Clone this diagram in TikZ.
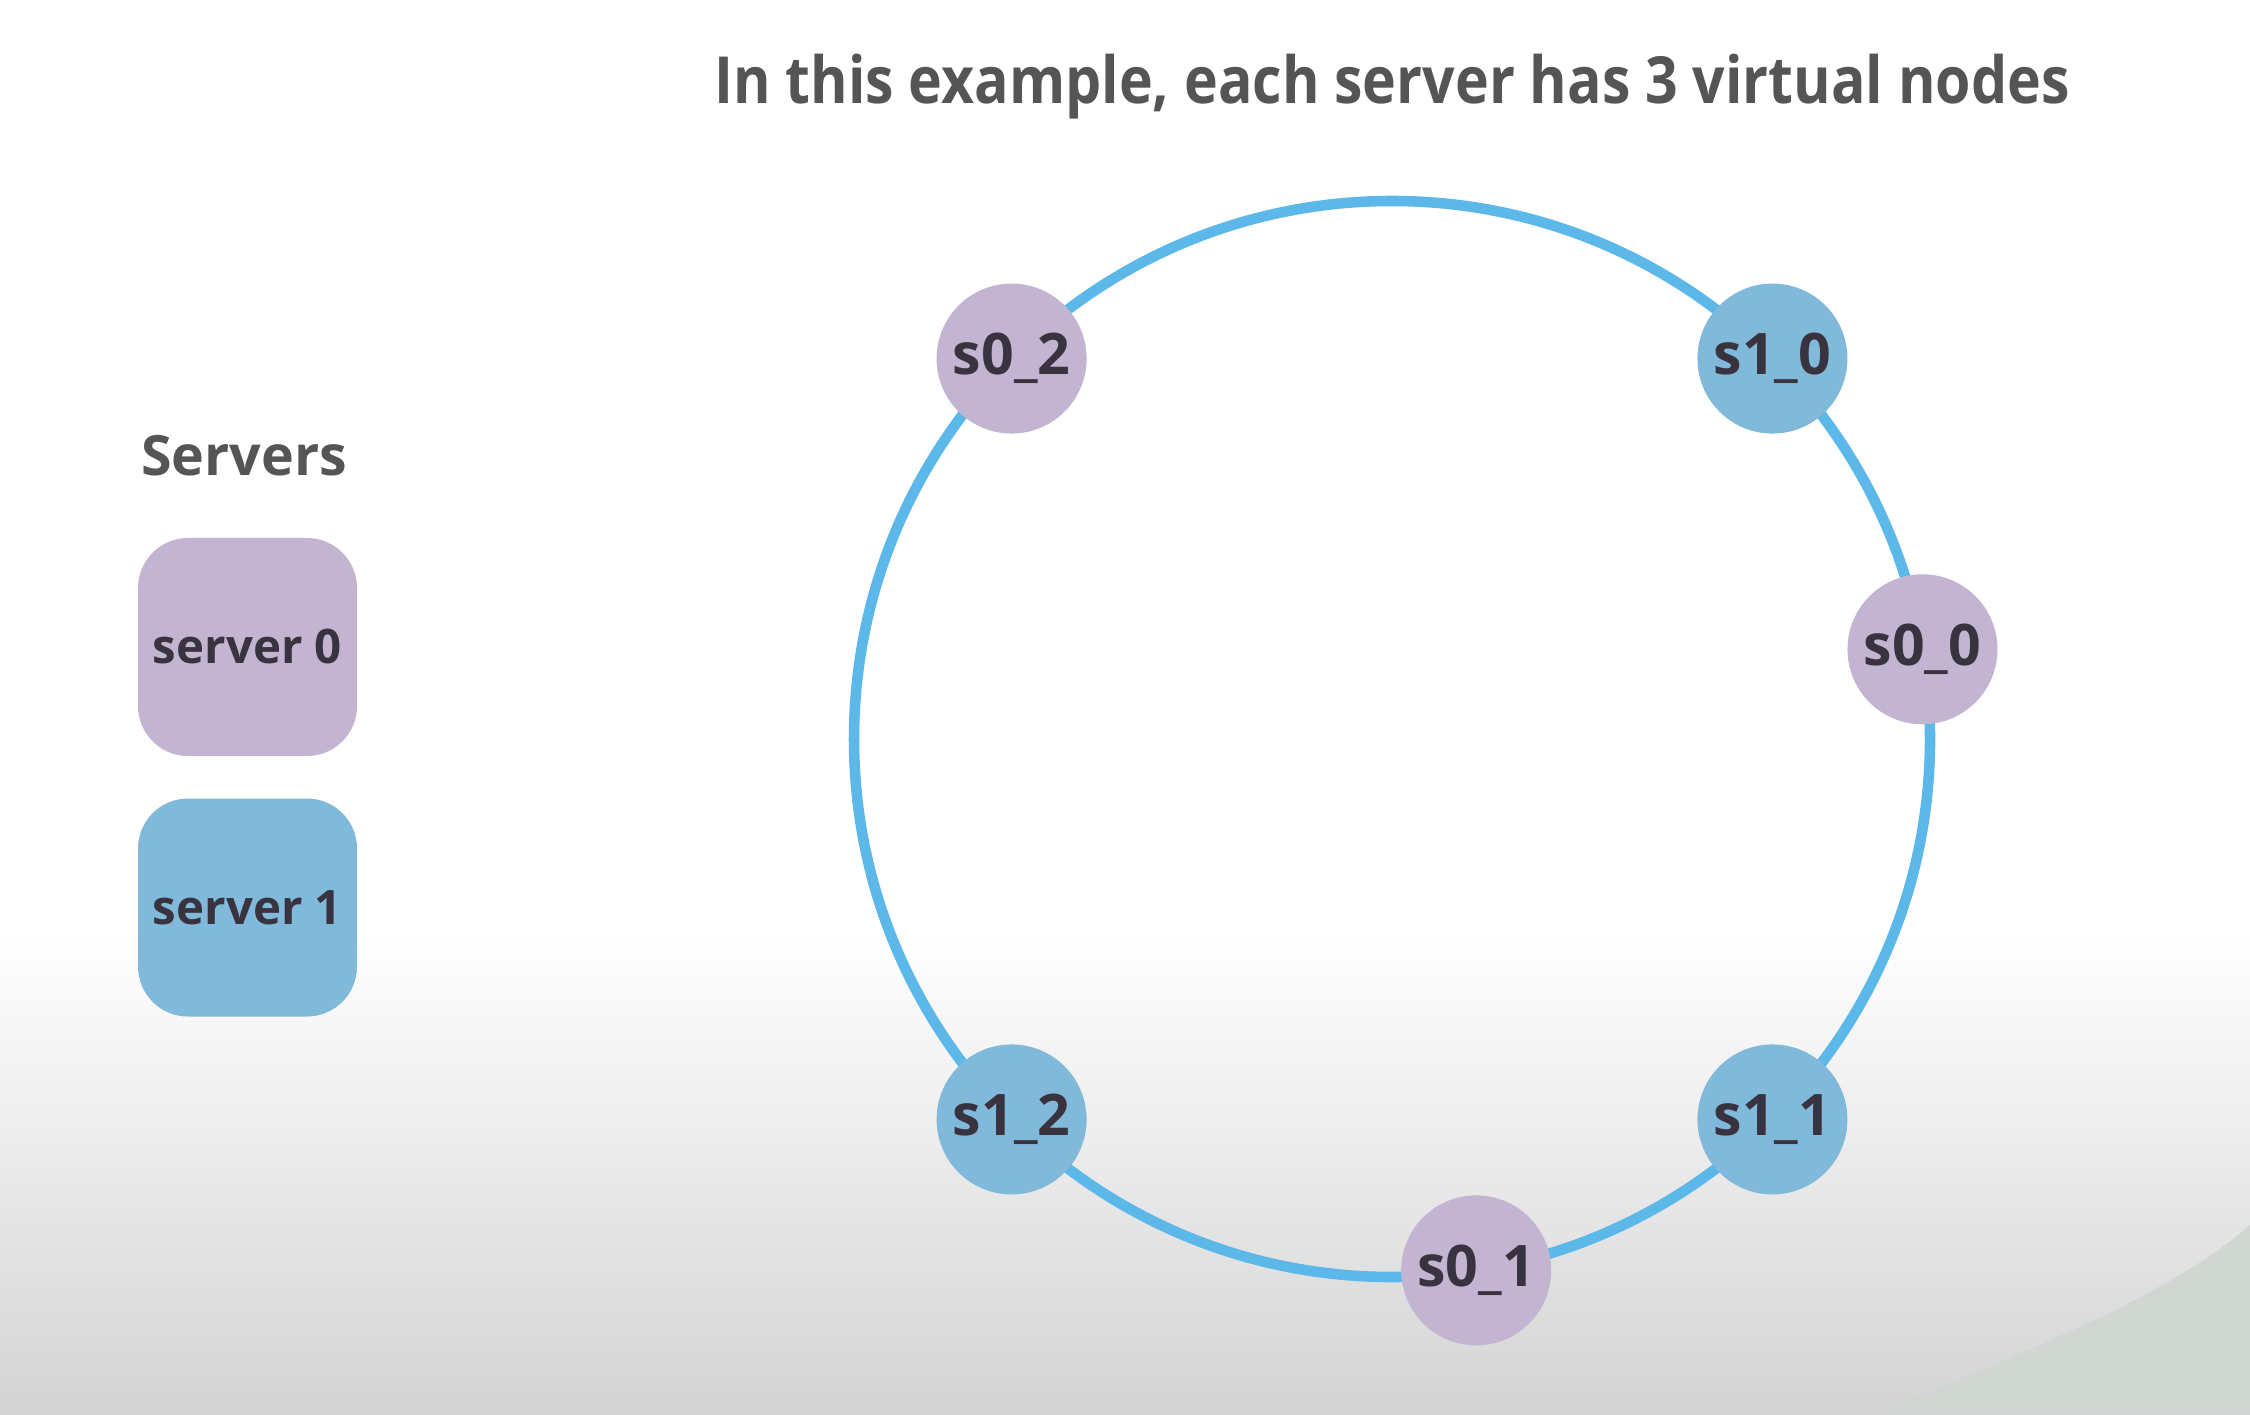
\documentclass[tikz,border=0pt]{standalone}
\usepackage{fontspec}
\setmainfont{Open Sans}
\definecolor{ringblue}{HTML}{5BB8E8}
\definecolor{lilac}{HTML}{C3B5D1}
\definecolor{skyblue}{HTML}{80B9D9}
\definecolor{titlegray}{HTML}{555555}
\definecolor{inkdark}{HTML}{38333F}
\definecolor{sage}{HTML}{D0D6D2}
\begin{document}
\begin{tikzpicture}[
  vnode/.style={circle, minimum size=1.5cm, inner sep=0pt, text=inkdark,
    font=\fontsize{16.3}{19}\selectfont\bfseries},
  vnode0/.style={vnode, fill=lilac},
  vnode1/.style={vnode, fill=skyblue},
  srvbox/.style={rounded corners=0.5cm, minimum width=2.19cm, minimum height=2.18cm,
    text=inkdark, font=\fontsize{13.5}{16}\selectfont\bfseries}
]
\useasboundingbox (0,0) rectangle (22.5,14.14);
% background of the slide
\fill[white] (0,0) rectangle (22.5,14.14);
\shade[top color=white, bottom color=black!17] (0,0) rectangle (22.5,4.84);
\fill[sage] (18.8,0) .. controls (20,0.55) and (21.6,1.1) .. (22.5,1.89) -- (22.5,0) -- cycle;
% title and legend
\node[text=titlegray, font=\fontsize{18.5}{22}\selectfont\bfseries] (title) at (13.92,13.27) {\scalebox{0.88}[1]{In this example, each server has 3 virtual nodes}};
\node[text=titlegray, font=\fontsize{15.8}{19}\selectfont\bfseries] (legend) at (2.44,9.58) {Servers};
\node[srvbox, fill=lilac] (srv0) at (2.475,7.67) {server 0};
\node[srvbox, fill=skyblue] (srv1) at (2.475,5.065) {server 1};
% the ring
\coordinate (ring) at (13.92,6.75);
\draw[ringblue, line width=3pt] (ring) circle (5.38);
\node[vnode0] (s00) at ([shift={(9.6:5.38)}]ring) {s0\_0};
\node[vnode0] (s01) at ([shift={(-81:5.38)}]ring) {s0\_1};
\node[vnode0] (s02) at ([shift={(135:5.38)}]ring) {s0\_2};
\node[vnode1] (s10) at ([shift={(45:5.38)}]ring) {s1\_0};
\node[vnode1] (s11) at ([shift={(-45:5.38)}]ring) {s1\_1};
\node[vnode1] (s12) at ([shift={(-135:5.38)}]ring) {s1\_2};
\end{tikzpicture}
\end{document}
